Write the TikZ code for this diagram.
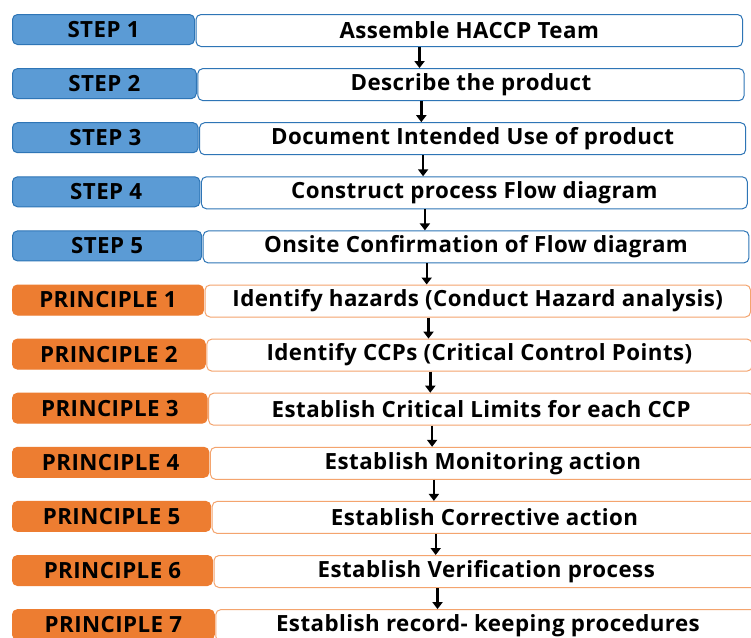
\documentclass[tikz,border=0pt]{standalone}
\usepackage{fontspec}
\setmainfont{Open Sans}[LetterSpace=2]
\usetikzlibrary{arrows.meta,calc}
\definecolor{bfill}{HTML}{5B9BD5}
\definecolor{bdraw}{HTML}{2E75B6}
\definecolor{ofill}{HTML}{ED7D31}
\definecolor{odraw}{HTML}{F4A46E}
\tikzset{
  lab/.style={rounded corners=5pt, line width=1pt, font=\fontsize{22.3}{26}\selectfont\bfseries},
  desc/.style={rounded corners=5pt, line width=1pt, fill=white, font=\fontsize{22.3}{26}\selectfont\bfseries},
  flow/.style={line width=2.4pt, -{Triangle[width=10pt,length=7pt]}},
}
\begin{document}
\begin{tikzpicture}[x=1pt,y=-1pt]
\clip (0,0) rectangle (751,637);
\useasboundingbox (0,0) rectangle (751,637);
\fill[white] (0,0) rectangle (751,637);
\foreach \i/\lt/\rt/\kind in {
 0/STEP 1/Assemble HACCP Team/b,
 1/STEP 2/Describe the product/b,
 2/STEP 3/Document Intended Use of product/b,
 3/STEP 4/Construct process Flow diagram/b,
 4/STEP 5/Onsite Confirmation of Flow diagram/b,
 5/PRINCIPLE 1/Identify hazards (Conduct Hazard analysis)/o,
 6/PRINCIPLE 2/Identify CCPs (Critical Control Points)/o,
 7/PRINCIPLE 3/Establish Critical Limits for each CCP/o,
 8/PRINCIPLE 4/Establish Monitoring action/o,
 9/PRINCIPLE 5/Establish Corrective action/o,
 10/PRINCIPLE 6/Establish Verification process/o,
 11/PRINCIPLE 7/Establish record- keeping procedures/o}{
  \pgfmathsetmacro{\top}{14+54.1*\i}
  \pgfmathsetmacro{\lr}{194+1.8*\i}
  \pgfmathsetmacro{\rl}{\lr+1.5}
  \pgfmathsetmacro{\rr}{742+1.6*\i}
  \pgfmathsetmacro{\lw}{\lr-12}
  \pgfmathsetmacro{\rw}{\rr-\rl}
  \if b\kind
    \node[lab, draw=bdraw, fill=bfill, minimum width=\lw pt, minimum height=30pt, inner sep=0pt, anchor=north west] (L\i) at (12,\top) {\lt};
    \node[desc, draw=bdraw, minimum width=\rw pt, minimum height=32pt, inner sep=0pt, anchor=north west] (R\i) at (\rl,\top) {\rt};
  \else
    \node[lab, draw=ofill, fill=ofill, minimum width=\lw pt, minimum height=30pt, inner sep=0pt, anchor=north west] (L\i) at (12,\top) {\lt};
    \node[desc, draw=odraw, minimum width=\rw pt, minimum height=32pt, inner sep=0pt, anchor=north west] (R\i) at (\rl,\top) {\rt};
  \fi
}
\foreach \i [evaluate=\i as \j using int(\i+1)] in {0,...,10}{
  \draw[flow] ([xshift=224pt]R\i.south west) -- ([xshift=224pt]R\i.south west |- R\j.north);
}
\end{tikzpicture}
\end{document}
